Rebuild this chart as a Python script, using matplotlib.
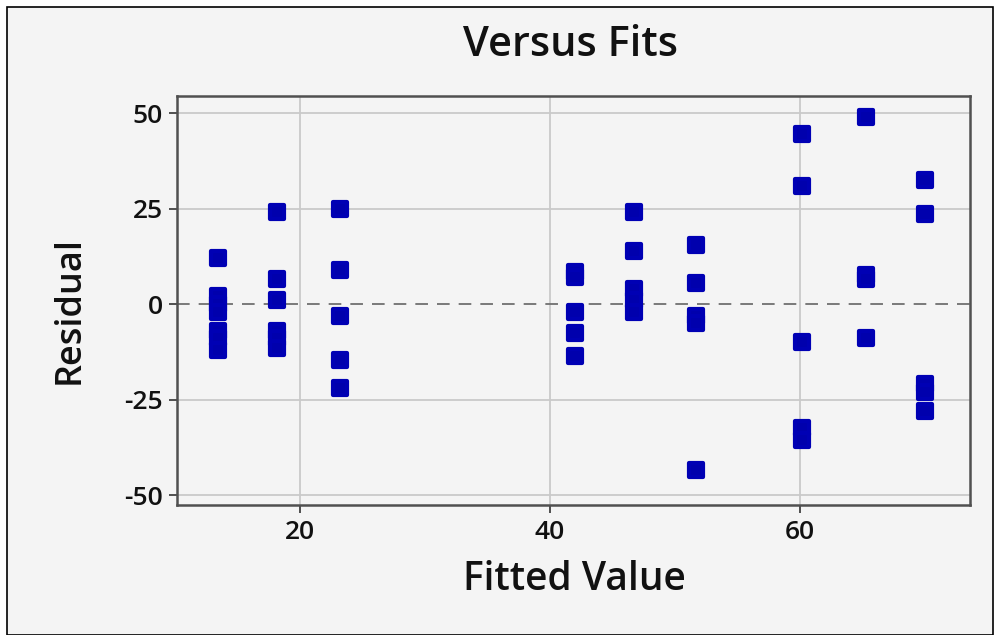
import matplotlib
matplotlib.use("Agg")
import matplotlib.pyplot as plt
from matplotlib.patches import Rectangle
from matplotlib.markers import MarkerStyle

# Data (fitted value groups and residuals)
fit_13 = [13.5] * 7
res_13 = [12, 2, 0, -2, -7, -9, -12]
fit_18 = [18.2] * 6
res_18 = [24, 6.5, 1, -7, -9, -11.5]
fit_23 = [23.2] * 5
res_23 = [25, 9, -3, -14.5, -22]
fit_42 = [42.0] * 5
res_42 = [8.5, 7, -2, -7.5, -13.5]
fit_47 = [46.7] * 5
res_47 = [24, 14, 4, 1, -2]
fit_52 = [51.7] * 5
res_52 = [15.5, 5.5, -3, -5, -43.5]
fit_60 = [60.2] * 5
res_60 = [44.5, 31, -10, -32.5, -35.5]
fit_65 = [65.3] * 4
res_65 = [49, 7.5, 6.5, -9]
fit_70 = [70.0] * 5
res_70 = [32.5, 23.5, -21, -23, -28]

fitted = fit_13 + fit_18 + fit_23 + fit_42 + fit_47 + fit_52 + fit_60 + fit_65 + fit_70
resid = res_13 + res_18 + res_23 + res_42 + res_47 + res_52 + res_60 + res_65 + res_70

x_ticks = [20, 40, 60]
y_ticks = [-50, -25, 0, 25, 50]

W, H = 995, 635
fig = plt.figure(figsize=(W / 100, H / 100), dpi=100)
fig.patch.set_facecolor("white")

# Panel background and frame
fig.patches.append(Rectangle((7 / W, 0), (W - 9) / W, (H - 7) / H,
                             transform=fig.transFigure, facecolor="#f4f4f4",
                             edgecolor="black", linewidth=1.2, zorder=0))

ax = fig.add_axes([177 / W, (H - 505) / H, (970 - 177) / W, (505 - 96) / H])
ax.set_zorder(2)
ax.set_facecolor("#f4f4f4")
ax.set_xlim(10.2, 73.6)
ax.set_ylim(-52.6, 54.5)

ax.set_xticks(x_ticks)
ax.set_yticks(y_ticks)
ax.set_yticklabels([str(v) for v in y_ticks])
for v in x_ticks:
    ax.axvline(v, color="#c9c9c9", lw=1.3, zorder=1)
for v in y_ticks:
    if v != 0:
        ax.axhline(v, color="#c9c9c9", lw=1.3, zorder=1)
ax.axhline(0, color="#707070", lw=1.3, ls=(0, (7, 5)), zorder=2)

mk = MarkerStyle("s", joinstyle="round")
ax.plot(fitted, resid, ls="none", marker=mk, markersize=10,
        markerfacecolor="#0000ad", markeredgecolor="#0000b4",
        markeredgewidth=3.0, zorder=3)

for s in ax.spines.values():
    s.set_color("#505050")
    s.set_linewidth(1.8)

fam = ["Open Sans", "DejaVu Sans"]
ax.tick_params(axis="both", which="both", direction="out", length=6,
               width=1.2, color="#333333", labelsize=19, top=False, right=False,
               pad=5)
ax.tick_params(axis="y", pad=4)
for lab in ax.get_xticklabels() + ax.get_yticklabels():
    lab.set_fontfamily(fam)
    lab.set_color("#111111")
    lab.set_fontweight("semibold")

fig.text(571 / W, 1 - 45 / H, "Versus Fits", ha="center", va="center",
         fontsize=30, family=fam, color="#111111", fontweight="semibold")
fig.text(574 / W, 1 - 580 / H, "Fitted Value", ha="center", va="center",
         fontsize=28, family=fam, color="#111111", fontweight="semibold")
fig.text(70 / W, 1 - 310 / H, "Residual", ha="center", va="center",
         fontsize=26, family=fam, color="#111111", rotation=90,
         fontweight="semibold")

fig.savefig("out.png", dpi=100, facecolor="white")
